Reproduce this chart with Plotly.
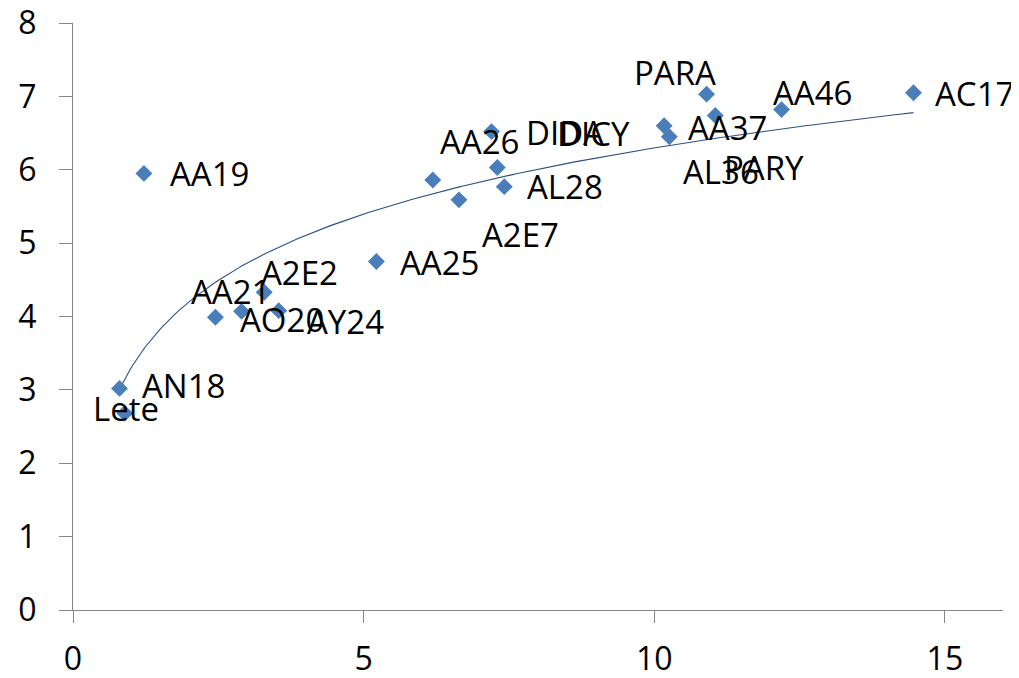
import numpy as np
import plotly.graph_objects as go

labels = ["AA19", "AN18", "Lete", "AA21", "AO20", "A2E2", "AY24", "AA25",
          "DICY", "A2E7", "AA26", "DIDA", "AL28",
          "AA37", "AL36", "PARA", "PARY", "AA46", "AC17"]
x_vals = [1.22, 0.80, 0.89, 2.45, 2.90, 3.29, 3.54, 5.22,
          6.19, 6.64, 7.20, 7.30, 7.42,
          10.17, 10.26, 10.90, 11.05, 12.19, 14.46]
y_vals = [5.95, 3.02, 2.68, 3.99, 4.07, 4.33, 4.08, 4.75,
          5.86, 5.59, 6.52, 6.03, 5.77,
          6.60, 6.45, 7.03, 6.74, 6.82, 7.05]

# logarithmic trendline y = a + b*ln(x), coefficients
trend_a = 3.30
trend_b = 1.302

# label offsets in pixels (style only): (dx, dy) from point to label's left/middle
label_offsets = {
    "AA19": (24, 0), "AN18": (20, 3), "Lete": (-34, 5), "AA21": (-26, 26),
    "AO20": (-4, -8), "A2E2": (-5, 20), "AY24": (26, -11), "AA25": (22, -1),
    "DICY": (122, 47), "A2E7": (21, -35), "AA26": (-54, -10), "DIDA": (27, 35),
    "AL28": (21, 0), "AA37": (22, -2), "AL36": (12, -35), "PARA": (-75, 22),
    "PARY": (7, -52), "AA46": (-11, 17), "AC17": (20, -1),
}

FONT = "Open Sans"
MARKER = "#4a7ebb"
AXIS = "#868686"

xa = np.array(x_vals)
xt = np.linspace(xa.min(), xa.max(), 300)
yt = trend_a + trend_b * np.log(xt)

fig = go.Figure()
fig.add_trace(go.Scatter(x=xt, y=yt, mode="lines",
                         line=dict(color="#2d4f80", width=1.1),
                         hoverinfo="skip", showlegend=False))
fig.add_trace(go.Scatter(x=x_vals, y=y_vals, mode="markers",
                         marker=dict(symbol="diamond", size=13, color=MARKER,
                                     line=dict(width=0)),
                         showlegend=False))

for lab, xv, yv in zip(labels, x_vals, y_vals):
    dx, dy = label_offsets[lab]
    fig.add_annotation(x=xv, y=yv, xref="x", yref="y", text=lab,
                       showarrow=False, xanchor="left", yanchor="middle",
                       xshift=dx, yshift=dy,
                       font=dict(family=FONT, size=33, color="black"))

# page body adds an 8px margin, so the figure is 8px smaller each way
fig.update_layout(
    width=1011, height=670,
    margin=dict(l=65, r=16, t=15, b=68, autoexpand=False),
    paper_bgcolor="white", plot_bgcolor="white",
    font=dict(family=FONT, size=32, color="black"),
    showlegend=False,
)
fig.update_xaxes(range=[0, 16], dtick=5, tick0=0, showgrid=False, zeroline=False,
                 showline=True, linecolor=AXIS, linewidth=1, automargin=False,
                 ticks="outside", ticklen=12, tickcolor=AXIS, tickwidth=1,
                 tickfont=dict(family=FONT, size=32, color="black"),
                 ticklabelstandoff=9, ticklabeloverflow="allow")
fig.update_yaxes(range=[0, 8], dtick=1, tick0=0, showgrid=False, zeroline=False,
                 showline=True, linecolor=AXIS, linewidth=1, automargin=False,
                 ticks="outside", ticklen=13, tickcolor=AXIS, tickwidth=1,
                 tickfont=dict(family=FONT, size=32, color="black"),
                 ticklabelstandoff=16, ticklabeloverflow="allow")

fig.write_html("out.html")
